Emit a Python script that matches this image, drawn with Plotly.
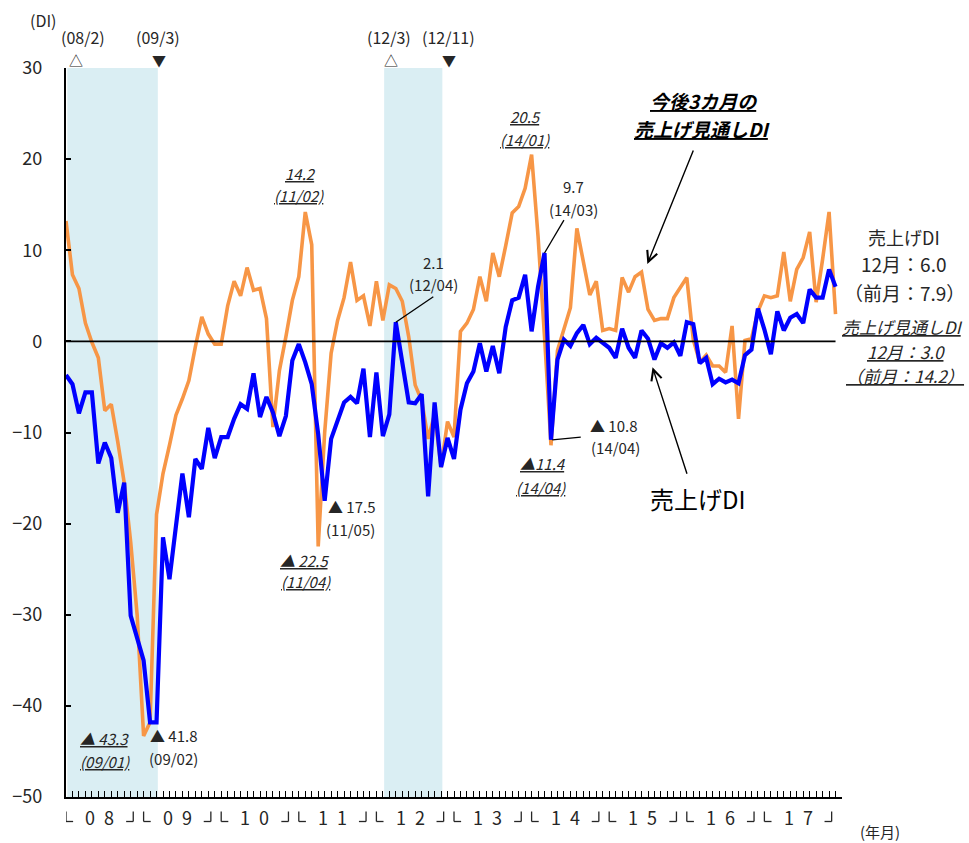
import plotly.graph_objects as go

# ---- data -------------------------------------------------------------
months = [f"{2008 + k // 12}/{k % 12 + 1:02d}" for k in range(120)]
year_labels = ["0 8", "0 9", "1 0", "1 1", "1 2", "1 3", "1 4", "1 5", "1 6", "1 7"]

# 売上げDI
sales_di = [
    -3.7, -4.7, -7.9, -5.6, -5.6, -13.4, -11.1, -12.8, -18.8, -15.5, -30.1, -32.5,
    -35.0, -41.8, -41.8, -21.5, -26.1, -20.3, -14.5, -19.3, -12.9, -14.0, -9.5, -12.8,
    -10.5, -10.5, -8.5, -6.9, -7.4, -3.5, -8.3, -6.1, -7.8, -10.4, -8.2, -2.1,
    -0.3, -2.3, -4.7, -10.2, -17.5, -10.7, -8.7, -6.7, -6.1, -6.8, -3.0, -10.5,
    -3.4, -10.4, -8.0, 2.1, -2.3, -6.7, -6.8, -5.8, -17.0, -6.7, -13.8, -10.6,
    -12.9, -7.5, -4.6, -3.3, -0.2, -3.3, -0.5, -3.5, 1.6, 4.5, 4.8, 7.3,
    1.1, 6.0, 9.7, -10.8, -2.0, 0.2, -0.5, 0.9, 1.8, -0.3, 0.4, -0.1,
    -0.7, -1.8, 1.4, -0.7, -1.8, 1.2, 0.3, -2.0, -0.2, -0.7, -0.1, -1.6,
    2.1, 1.9, -2.4, -1.8, -4.7, -4.1, -4.5, -4.2, -4.6, -1.5, -0.9, 3.6,
    1.3, -1.4, 3.3, 1.2, 2.6, 3.0, 2.0, 5.7, 4.8, 4.8, 7.9, 6.0,
]

# 今後3カ月の売上げ見通しDI
outlook_di = [
    13.2, 7.3, 5.8, 2.0, -0.1, -1.8, -7.6, -6.9, -11.0, -15.5, -22.0, -30.0,
    -43.3, -41.8, -19.0, -14.5, -11.4, -8.1, -6.3, -4.3, -0.6, 2.7, 0.8, -0.3,
    -0.3, 3.9, 6.6, 5.0, 8.1, 5.6, 5.8, 2.5, -9.4, -3.2, 0.5, 4.5,
    7.1, 14.2, 10.6, -22.5, -10.0, -1.3, 2.3, 4.8, 8.7, 4.5, 5.0, 1.7,
    6.6, 2.3, 6.2, 5.8, 4.4, 0.5, -4.8, -6.5, -10.7, -8.0, -13.8, -8.8,
    -10.5, 1.1, 2.0, 3.5, 7.1, 4.4, 9.7, 7.1, 10.5, 14.1, 14.8, 16.8,
    20.5, 11.5, 0.5, -11.4, -1.0, 1.5, 3.7, 12.4, 8.8, 5.1, 6.6, 1.2,
    1.4, 1.2, 7.0, 5.4, 7.1, 7.6, 3.5, 2.3, 2.5, 2.5, 4.8, 5.9,
    7.0, 0.2, -2.3, -1.5, -2.7, -2.7, -3.4, 1.7, -8.5, 0.1, 0.3, 3.3,
    5.0, 4.8, 5.0, 9.8, 4.4, 7.9, 9.2, 12.0, 4.3, 9.0, 14.2, 3.0,
]

# 景気後退期 (山, 谷)
recessions = [("2008/02", "2009/03"), ("2012/03", "2012/11")]
peak_labels = ["(08/2)", "(12/3)"]
trough_labels = ["(09/3)", "(12/11)"]

# ---- styling ----------------------------------------------------------
FONT = "Noto Sans CJK JP"
TXT = "#262626"
ORANGE = "#F79646"
BLUE = "#0000FF"
SHADE = "#DAEEF3"

L, R, T, B = 63, 127, 68, 46
W, H = 969, 843
PW, PH = W - L - R, H - T - B

x = list(range(len(months)))


def py_to_paper(py):
    return (H - B - py) / PH


def px_to_paper(px):
    return (px - L) / PW


fig = go.Figure()

fig.add_trace(go.Scatter(x=x, y=outlook_di, mode="lines", name="今後3カ月の売上げ見通しDI",
                         line=dict(color=ORANGE, width=3.6), hoverinfo="skip"))
fig.add_trace(go.Scatter(x=x, y=sales_di, mode="lines", name="売上げDI",
                         line=dict(color=BLUE, width=4.2), hoverinfo="skip"))

shapes = []
annotations = []

# shaded recession bands
for (start, end) in recessions:
    i0, i1 = months.index(start), months.index(end)
    shapes.append(dict(type="rect", xref="x", yref="y", x0=i0 - 0.8, x1=i1 + 0.2,
                       y0=-50, y1=30, fillcolor=SHADE, line=dict(width=0), layer="below"))

# zero line
shapes.append(dict(type="line", xref="x", yref="y", x0=0, x1=len(x) - 1, y0=0, y1=0,
                   line=dict(color="black", width=1.8)))


def text(s, xx, yy, size=15, xref="x", yref="y", color=TXT, xanchor="center"):
    annotations.append(dict(text=s, x=xx, y=yy, xref=xref, yref=yref, showarrow=False,
                            font=dict(family=FONT, size=size, color=color),
                            xanchor=xanchor, yanchor="middle"))


def ui(s):
    return f"<i><u>{s}</u></i>"


# peak / trough markers above the plot
mark_y = py_to_paper(60)
lab_y = py_to_paper(37)
for (start, end), pl, tl, pm, tm, po, to in zip(recessions, peak_labels, trough_labels,
                                                 [1.54, 50.2], [14.33, 59.3],
                                                 [1.7, 0.0], [0.3, 1.2]):
    i0, i1 = months.index(start), months.index(end)
    text(pl, i0 + po, lab_y, size=16, yref="paper")
    text("△", pm, mark_y, size=14, yref="paper")
    text(tl, i1 + to, lab_y, size=16, yref="paper")
    text("▼", tm, mark_y, size=14, yref="paper")

text("(DI)", px_to_paper(40), py_to_paper(20), size=16, xref="paper", yref="paper")
text("(年月)", px_to_paper(880), py_to_paper(831), size=15, xref="paper", yref="paper")

# year labels with bracket marks under the axis
yl = py_to_paper(816.5)
b_top, b_bot = py_to_paper(811.5), py_to_paper(821.5)
for k, lab in enumerate(year_labels):
    s, e = 12 * k, 12 * k + 10.4
    text(lab.replace(" ", "\u2002"), s + 5.2, yl, size=18, yref="paper")
    for seg in [(s, b_top, s, b_bot), (s, b_bot, s + 1.1, b_bot),
                (e, b_top, e, b_bot), (e - 1.1, b_bot, e, b_bot)]:
        shapes.append(dict(type="line", xref="x", yref="paper", x0=seg[0], y0=seg[1],
                           x1=seg[2], y1=seg[3], line=dict(color=TXT, width=1.3)))

# value call-outs (outlook DI: italic underlined)
i = months.index("2011/02")
text(ui(f"{outlook_di[i]:.1f}"), 36.2, 18.4)
text(ui("(11/02)"), 36.1, 16.0)
i = months.index("2014/01")
text(ui(f"{outlook_di[i]:.1f}"), 71.0, 24.7)
text(ui("(14/01)"), 71.0, 22.1)
i = months.index("2011/04")
text(ui(f"▲ {abs(outlook_di[i]):.1f}"), 36.9, -24.0)
text(ui("(11/04)"), 37.1, -26.4)
i = months.index("2014/04")
text(ui(f"▲{abs(outlook_di[i]):.1f}"), 73.8, -13.4)
text(ui("(14/04)"), 73.5, -16.0)
i = months.index("2009/01")
text(ui(f"▲ {abs(outlook_di[i]):.1f}"), 6.0, -43.6)
text(ui("(09/01)"), 6.0, -46.1)

# value call-outs (sales DI)
i = months.index("2014/03")
text(f"{sales_di[i]:.1f}", 78.5, 17.0)
text("(14/03)", 78.5, 14.5)
shapes.append(dict(type="line", xref="x", yref="y", x0=77.0, y0=13.3, x1=i, y1=sales_di[i],
                   line=dict(color="black", width=1.3)))
i = months.index("2012/04")
text(f"{sales_di[i]:.1f}", 56.9, 8.7)
text("(12/04)", 56.8, 6.2)
shapes.append(dict(type="line", xref="x", yref="y", x0=56.8, y0=4.9, x1=i, y1=sales_di[i],
                   line=dict(color="black", width=1.3)))
i = months.index("2011/05")
text(f"▲ {abs(sales_di[i]):.1f}", 44.2, -18.1)
text("(11/05)", 44.0, -20.6)
i = months.index("2014/04")
text(f"▲ {abs(sales_di[i]):.1f}", 84.7, -9.25)
text("(14/04)", 84.9, -11.7)
shapes.append(dict(type="line", xref="x", yref="y", x0=79.6, y0=-10.5, x1=i + 0.2, y1=sales_di[i],
                   line=dict(color="black", width=1.3)))
i = months.index("2009/02")
text(f"▲ {abs(sales_di[i]):.1f}", 16.7, -43.3)
text("(09/02)", 16.7, -45.8)

# series names with pointer arrows
text("<b>" + ui("今後3カ月の") + "</b>", 98.7, (340.7 - 99.5) / 9.11, size=19, color="black")
text("<b>" + ui("売上げ見通しDI") + "</b>", 98.4, (340.7 - 127.5) / 9.11, size=19, color="black")
annotations.append(dict(x=89.9, y=8.5, ax=97.1, ay=21.1, xref="x", yref="y", axref="x", ayref="y",
                        text="", showarrow=True, arrowhead=5, arrowsize=1.5, arrowwidth=1.4,
                        arrowcolor="black"))
text("売上げDI", 97.8, -17.2, size=24, color="black")
annotations.append(dict(x=90.7, y=-2.85, ax=96.1, ay=-14.7, xref="x", yref="y", axref="x", ayref="y",
                        text="", showarrow=True, arrowhead=5, arrowsize=1.5, arrowwidth=1.4,
                        arrowcolor="black"))

# latest values, right margin
n = len(months) - 1
text("売上げDI", px_to_paper(904), py_to_paper(237), size=18, xref="paper", yref="paper")
text(f"12月：{sales_di[n]:.1f}", px_to_paper(904), py_to_paper(263.5), size=19,
     xref="paper", yref="paper")
text(f"（前月：{sales_di[n - 1]:.1f}）", px_to_paper(905), py_to_paper(292), size=19,
     xref="paper", yref="paper")
text(ui("売上げ見通しDI"), px_to_paper(903), py_to_paper(326.5), size=17, xref="paper", yref="paper")
text(ui(f"12月：{outlook_di[n]:.1f}"), px_to_paper(907), py_to_paper(351.5), size=17,
     xref="paper", yref="paper")
text(ui(f"（前月：{outlook_di[n - 1]:.1f}）"), px_to_paper(905), py_to_paper(375), size=17,
     xref="paper", yref="paper")

fig.update_layout(
    width=W, height=H, autosize=False,
    margin=dict(l=L, r=R, t=T, b=B, pad=0),
    paper_bgcolor="white", plot_bgcolor="white",
    showlegend=False,
    font=dict(family=FONT, color=TXT),
    shapes=shapes, annotations=annotations,
    xaxis=dict(range=[0, 120], tick0=0, dtick=1, ticks="inside", ticklen=6, tickwidth=1.2,
               tickcolor="black", showticklabels=False, showgrid=False, zeroline=False,
               showline=True, linecolor="black", linewidth=2.2),
    yaxis=dict(range=[-50, 30], tick0=-50, dtick=10, ticks="inside", ticklen=5, tickwidth=1.5,
               tickcolor="black", showgrid=False, zeroline=False, showline=True,
               linecolor="black", linewidth=2.2, ticklabelstandoff=18,
               tickfont=dict(family=FONT, size=18, color=TXT)),
)

fig.write_html("out.html")
